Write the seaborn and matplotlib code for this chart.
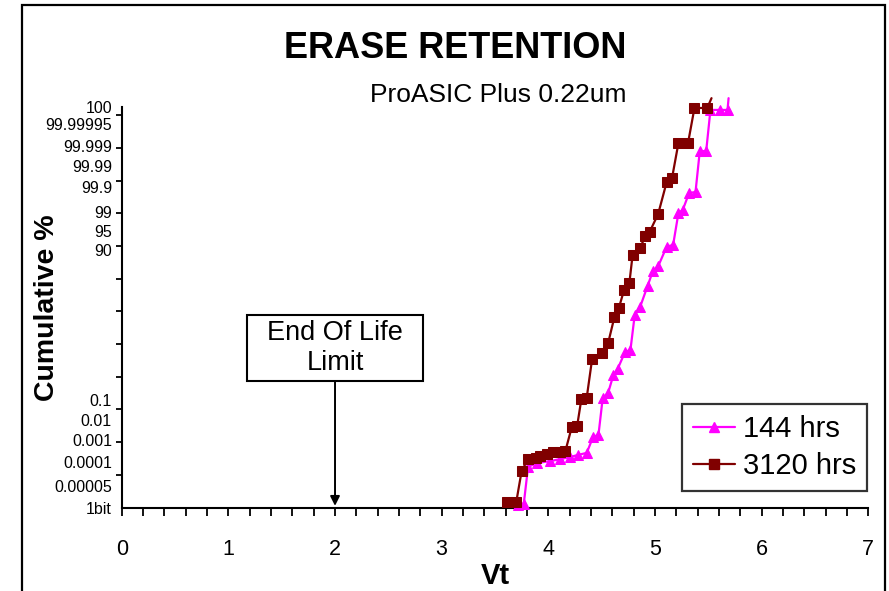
import matplotlib
matplotlib.use("Agg")
import matplotlib.pyplot as plt
import seaborn as sns
import pandas as pd
from matplotlib.patches import Rectangle
from matplotlib.lines import Line2D

# ---- data (y in probability-paper axis units, 0 = 1bit) ----
vt_144 = [3.72, 3.77, 3.81, 3.89, 4.02, 4.11, 4.20, 4.28, 4.36, 4.42, 4.47, 4.51,
          4.56, 4.61, 4.65, 4.72, 4.77, 4.81, 4.86, 4.93, 4.98, 5.03, 5.11, 5.17,
          5.22, 5.26, 5.32, 5.38, 5.42, 5.48, 5.52, 5.61, 5.68, 5.69]
cum_144 = [0.08, 0.12, 1.24, 1.36, 1.42, 1.48, 1.54, 1.61, 1.67, 2.16, 2.22, 3.35,
           3.50, 4.05, 4.24, 4.76, 4.82, 5.89, 6.13, 6.77, 7.23, 7.38, 7.98, 8.03,
           9.01, 9.10, 9.62, 9.65, 10.90, 10.90, 12.16, 12.16, 12.16, 12.52]
vt_3120 = [3.61, 3.70, 3.75, 3.81, 3.88, 3.92, 3.99, 4.04, 4.11, 4.16, 4.22, 4.27,
           4.31, 4.36, 4.41, 4.50, 4.56, 4.62, 4.66, 4.71, 4.76, 4.79, 4.86, 4.91,
           4.95, 5.03, 5.11, 5.16, 5.22, 5.31, 5.37, 5.49, 5.53]
cum_3120 = [0.18, 0.18, 1.12, 1.48, 1.52, 1.57, 1.64, 1.70, 1.70, 1.73, 2.46, 2.49,
            3.32, 3.36, 4.53, 4.74, 5.02, 5.83, 6.09, 6.65, 6.87, 7.72, 7.94, 8.30,
            8.43, 8.98, 9.96, 10.08, 11.15, 11.15, 12.22, 12.22, 12.52]

series_names = ["144 hrs", "3120 hrs"]
y_tick_labels = ["100", "99.99995", "99.999", "99.99", "99.9", "99", "95", "90",
                 "0.1", "0.01", "0.001", "0.0001", "0.00005", "1bit"]
y_tick_pos = [12.25, 11.73, 11.05, 10.44, 9.80, 9.04, 8.46, 7.87,
              3.29, 2.68, 2.05, 1.38, 0.66, 0.0]
x_ticks = [0, 1, 2, 3, 4, 5, 6, 7]
eol_limit = 2

sns.set_theme(style="white")
plt.rcParams["font.family"] = ["Liberation Sans", "DejaVu Sans"]
plt.rcParams["text.color"] = "black"
plt.rcParams["axes.labelcolor"] = "black"
plt.rcParams["xtick.color"] = "black"
plt.rcParams["ytick.color"] = "black"

fig = plt.figure(figsize=(8.89, 5.91), dpi=100)
ax = fig.add_axes([121.7 / 889, 1 - 507.5 / 591, 746.6 / 889, 400.5 / 591])

c_mag = "#FF00FF"
c_red = "#800000"

df144 = pd.DataFrame({"Vt": vt_144, "cum": cum_144})
df3120 = pd.DataFrame({"Vt": vt_3120, "cum": cum_3120})

sns.lineplot(data=df144, x="Vt", y="cum", ax=ax, sort=False, estimator=None,
             color=c_mag, lw=1.6, marker="^", markersize=7.5, markeredgecolor=c_mag,
             markevery=list(range(len(vt_144) - 1)), clip_on=False, zorder=3)
sns.lineplot(data=df3120, x="Vt", y="cum", ax=ax, sort=False, estimator=None,
             color=c_red, lw=1.6, marker="s", markersize=7.5, markeredgecolor=c_red,
             markevery=list(range(len(vt_3120) - 1)), clip_on=False, zorder=4)

ax.set_xlim(0, 7)
ax.set_ylim(0, 12.25)

for s in ["top", "right"]:
    ax.spines[s].set_visible(False)
for s in ["left", "bottom"]:
    ax.spines[s].set_color("black")
    ax.spines[s].set_linewidth(1.5)

ax.set_xticks(x_ticks)
ax.set_xticks([i * 0.2 for i in range(36)], minor=True)
ax.tick_params(axis="x", which="both", direction="out", length=6, width=1.3,
               color="black", bottom=True)
ax.tick_params(axis="x", which="major", labelsize=15.5, pad=17)

ax.set_yticks(y_tick_pos, labels=y_tick_labels)
ax.set_yticks(list(range(13)), minor=True)
ax.tick_params(axis="y", which="major", length=0, labelsize=11.5, pad=7, left=True)
ax.tick_params(axis="y", which="minor", direction="out", length=4, width=1.3,
               color="black", left=True)

ax.set_xlabel("Vt", fontsize=21, fontweight="bold")
ax.set_ylabel("Cumulative %", fontsize=20.5, fontweight="bold")
ax.xaxis.set_label_coords((495 - 121.7) / 746.6, -(576 - 507.5) / 400.5)
ax.xaxis.label.set_va("center")
ax.yaxis.set_label_coords((47 - 121.7) / 746.6, (507.5 - 308) / 400.5)
ax.yaxis.label.set_va("center")

ax.annotate("  End Of Life  \nLimit", xy=(eol_limit, 0.05), xycoords="data",
            xytext=(eol_limit, 4.88), textcoords="data", ha="center", va="center",
            multialignment="center", fontsize=19.5, linespacing=1.2,
            bbox=dict(boxstyle="square,pad=0.2", fc="white", ec="black", lw=1.5),
            arrowprops=dict(arrowstyle="-|>", color="black", lw=1.4,
                            mutation_scale=14, shrinkA=0, shrinkB=0))

handles = [Line2D([], [], color=c_mag, marker="^", markersize=7, lw=1.6),
           Line2D([], [], color=c_red, marker="s", markersize=7, lw=1.6)]
leg = fig.legend(handles, series_names, loc="upper left",
                 bbox_to_anchor=(682 / 889, 1 - 404 / 591),
                 fontsize=21, frameon=True, fancybox=False, handlelength=1.45,
                 handletextpad=0.25, borderpad=0.38, labelspacing=0.3,
                 borderaxespad=0)
leg.get_frame().set_edgecolor("black")
leg.get_frame().set_linewidth(1.6)

fig.text(455 / 889, 1 - 48 / 591, "ERASE RETENTION", ha="center", va="center",
         fontsize=26, fontweight="bold")
fig.text(498 / 889, 1 - 95 / 591, "ProASIC Plus 0.22um", ha="center", va="center",
         fontsize=19)

fig.patches.append(Rectangle((22 / 889, -0.05), (885 - 22) / 889, 1.05 - 5 / 591,
                             transform=fig.transFigure, fill=False, ec="black",
                             lw=1.6))

fig.savefig("out.png", dpi=100)
